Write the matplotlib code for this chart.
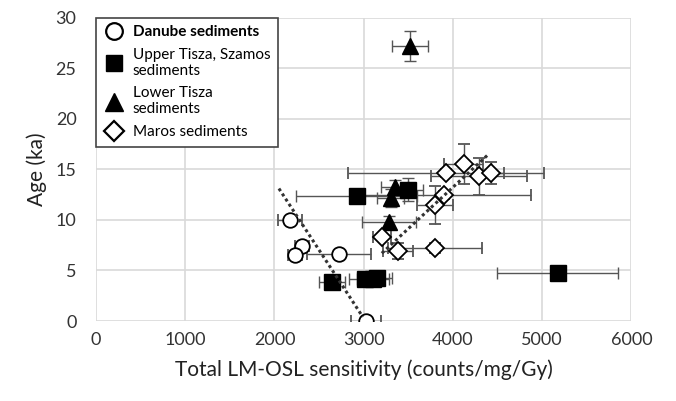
import numpy as np
import matplotlib.pyplot as plt
from matplotlib.lines import Line2D

plt.rcParams['font.family'] = ['Lato', 'DejaVu Sans']

# Danube sediments (circles)
dan_x = [2172, 2307, 2228, 2721, 3024]
dan_y = [10.0, 7.4, 6.5, 6.6, 0.0]
dan_xe = [135, 80, 80, 360, 170]
dan_ye = [0.3, 0.3, 0.3, 0.3, 0.3]

# Upper Tisza, Szamos sediments (squares)
ut_x = [2923, 3494, 2643, 3020, 3100, 3150, 5174]
ut_y = [12.4, 13.0, 3.9, 4.2, 4.2, 4.3, 4.75]
ut_xe = [680, 170, 145, 180, 180, 170, 680]
ut_ye = [0.3, 1.1, 0.3, 0.3, 0.3, 0.3, 0.3]

# Lower Tisza sediments (triangles)
lt_x = [3516, 3348, 3303, 3281]
lt_y = [27.2, 13.3, 12.2, 9.8]
lt_xe = [200, 150, 150, 300]
lt_ye = [1.5, 0.6, 0.9, 0.6]

# Maros sediments (diamonds)
ma_x = [3919, 4121, 4289, 4423, 3897, 3796, 3203, 3382, 3796]
ma_y = [14.6, 15.5, 14.3, 14.6, 12.5, 11.5, 8.3, 6.9, 7.2]
ma_xe = [1100, 220, 540, 150, 975, 200, 100, 170, 525]
ma_ye = [0.4, 2.0, 1.8, 1.1, 0.4, 1.9, 0.3, 0.8, 0.5]

# trend lines (end points)
trend1_x = [2050, 2990]
trend1_y = [13.1, 0.4]
trend2_x = [3203, 4400]
trend2_y = [6.7, 16.5]

fig = plt.figure(figsize=(6.76, 4.01), dpi=100)
ax = fig.add_axes([0.142, 0.1995, 0.792, 0.7565])

ecol = '#555555'
eb = dict(ecolor=ecol, elinewidth=1, capsize=4, capthick=1, linestyle='none', zorder=3)

ax.errorbar(dan_x, dan_y, xerr=dan_xe, yerr=dan_ye, fmt='o', mfc='white', mec='black',
            mew=1.3, ms=10.5, **eb)
ax.errorbar(ut_x, ut_y, xerr=ut_xe, yerr=ut_ye, fmt='s', mfc='black', mec='black',
            ms=11, **eb)
ax.errorbar(lt_x, lt_y, xerr=lt_xe, yerr=lt_ye, fmt='^', mfc='black', mec='black',
            ms=12, **eb)
ax.errorbar(ma_x, ma_y, xerr=ma_xe, yerr=ma_ye, fmt='D', mfc='white', mec='black',
            mew=1.3, ms=9, **eb)

ax.plot(trend1_x, trend1_y, color='#333333', lw=2.2, ls=(0, (1, 1)), zorder=4)
ax.plot(trend2_x, trend2_y, color='#333333', lw=2.2, ls=(0, (1, 1)), zorder=4)

ax.set_xlim(0, 6000)
ax.set_ylim(0, 30)
ax.set_xticks(np.arange(0, 6001, 1000))
ax.set_yticks(np.arange(0, 31, 5))
ax.grid(True, color='#d9d9d9', lw=1.2)
ax.set_axisbelow(True)
for s in ax.spines.values():
    s.set_visible(False)
ax.tick_params(length=0, labelsize=13, colors='#333333', pad=8)
ax.tick_params(axis='y', pad=14)

ax.set_xlabel('Total LM-OSL sensitivity (counts/mg/Gy)', fontsize=15, color='#222222', labelpad=8)
ax.set_ylabel('Age (ka)', fontsize=15, color='#222222', labelpad=6)

handles = [
    Line2D([], [], marker='o', ls='none', mfc='white', mec='black', mew=1.6, ms=12),
    Line2D([], [], marker='s', ls='none', mfc='black', mec='black', ms=11),
    Line2D([], [], marker='^', ls='none', mfc='black', mec='black', ms=13),
    Line2D([], [], marker='D', ls='none', mfc='white', mec='black', mew=1.6, ms=10),
]
labels = ['Danube sediments', 'Upper Tisza, Szamos\nsediments', 'Lower Tisza\nsediments',
          'Maros sediments']
leg = ax.legend(handles, labels, loc='upper left', bbox_to_anchor=(0.0, 1.0), fontsize=11,
                frameon=True, fancybox=False, edgecolor='#444444', framealpha=1,
                borderpad=0.5, labelspacing=0.55, handletextpad=0.6, handlelength=1.3,
                borderaxespad=0)
leg.get_frame().set_linewidth(1.2)
leg.get_texts()[0].set_fontweight('bold')

fig.savefig('out.png', dpi=100)
